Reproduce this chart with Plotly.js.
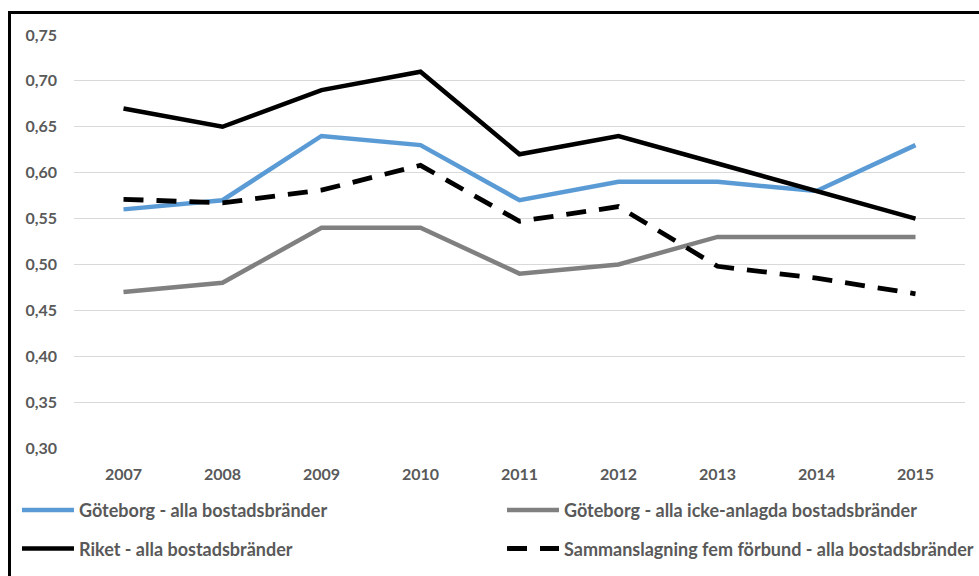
<!DOCTYPE html>
<html>
<head>
<meta charset="utf-8">
<script src="https://cdn.plot.ly/plotly-3.0.1.min.js"></script>
<style>
html,body{margin:0;padding:0;background:#fff;}
#chart{width:979px;height:576px;}
#frame{position:absolute;left:8px;top:11px;width:1000px;height:620px;border:3px solid #000;pointer-events:none;box-sizing:border-box;}
</style>
</head>
<body>
<div id="chart"></div>
<div id="frame"></div>
<script>
const years = ['2007','2008','2009','2010','2011','2012','2013','2014','2015'];
const goteborgAlla = [0.56, 0.57, 0.64, 0.63, 0.57, 0.59, 0.59, 0.58, 0.63];
const goteborgIckeAnlagda = [0.47, 0.48, 0.54, 0.54, 0.49, 0.50, 0.53, 0.53, 0.53];
const riketAlla = [0.67, 0.65, 0.69, 0.71, 0.62, 0.64, 0.61, 0.58, 0.55];
const sammanslagning = [0.571, 0.567, 0.581, 0.608, 0.547, 0.563, 0.498, 0.485, 0.468];
const seriesNames = [
  'Göteborg - alla bostadsbränder',
  'Göteborg - alla icke-anlagda bostadsbränder',
  'Riket - alla bostadsbränder',
  'Sammanslagning fem förbund - alla bostadsbränder'
];

const textColor = '#595959';
const fontFam = 'Lato, "Open Sans", sans-serif';

const traces = [
  {x: years, y: goteborgAlla, name: seriesNames[0], type: 'scatter', mode: 'lines',
   line: {color: '#5B9BD5', width: 4.5}, legend: 'legend', legendgroup: 'a'},
  {x: years, y: goteborgIckeAnlagda, name: seriesNames[1], type: 'scatter', mode: 'lines',
   line: {color: '#808080', width: 4.5}, legend: 'legend2', legendgroup: 'b'},
  {x: years, y: riketAlla, name: seriesNames[2], type: 'scatter', mode: 'lines',
   line: {color: '#000000', width: 4.5}, legend: 'legend', legendgroup: 'c'},
  {x: years, y: sammanslagning, name: seriesNames[3], type: 'scatter', mode: 'lines',
   line: {color: '#000000', width: 4.8, dash: '20px,13px'}, legend: 'legend2', legendgroup: 'd'}
];

const legendCommon = {
  orientation: 'v', traceorder: 'grouped', tracegroupgap: 12,
  font: {family: fontFam, size: 18, color: textColor, weight: 'bold'},
  bgcolor: 'rgba(0,0,0,0)', borderwidth: 0, itemwidth: 52,
  xref: 'paper', yref: 'container',
  xanchor: 'left', yanchor: 'top', y: 0.146
};

const layout = {
  width: 979, height: 576,
  margin: {l: 74, r: 14, t: 35, b: 128},
  paper_bgcolor: '#ffffff', plot_bgcolor: '#ffffff',
  separators: ', ',
  font: {family: fontFam, size: 16, color: textColor, weight: 'bold'},
  showlegend: true,
  xaxis: {
    type: 'category', range: [-0.5, 8.5], showgrid: false, zeroline: false, showline: false,
    ticks: '', ticklabelstandoff: 15,
    tickfont: {family: fontFam, size: 16, color: textColor, weight: 'bold'}
  },
  yaxis: {
    range: [0.30, 0.75], dtick: 0.05, tick0: 0.30, tickformat: '.2f',
    showgrid: true, gridcolor: '#D9D9D9', gridwidth: 1,
    zeroline: false, showline: false, ticks: '', ticklabelstandoff: 16,
    tickfont: {family: fontFam, size: 16, color: textColor, weight: 'bold'}
  },
  legend: Object.assign({}, legendCommon, {x: -0.064}),
  legend2: Object.assign({}, legendCommon, {x: 0.4882})
};

Plotly.newPlot('chart', traces, layout, {displayModeBar: false, staticPlot: true});
</script>
</body>
</html>
